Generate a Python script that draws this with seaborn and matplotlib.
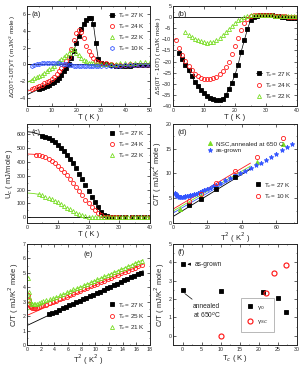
import matplotlib
matplotlib.use("Agg")
import matplotlib.pyplot as plt
import seaborn as sns
from matplotlib.ticker import MultipleLocator, AutoMinorLocator

# ---------------- data ----------------
# (a) dC/T vs T
a_T27 = [5,6,7,8,9,10,11,12,13,14,15,16,17,18,19,20,21,22,23,24,25,26,27,28,29,30,32,34,36,38,40,42,44,46,48,50]
a_dC27 = [-2.95,-2.85,-2.75,-2.6,-2.45,-2.3,-2.1,-1.85,-1.6,-1.25,-0.85,-0.4,0.05,0.8,1.6,2.5,3.4,4.2,4.8,5.3,5.5,5.6,4.8,2.6,0.6,0.2,0.05,-0.1,-0.2,-0.25,-0.2,-0.15,-0.1,-0.1,-0.1,-0.1]
a_T = [2,3,4,5,6,7,8,9,10,11,12,13,14,15,16,17,18,19,20,21,22,23,24,25,26,27,28,29,30,32,34,36,38,40,42,44,46,48,50]
a_dC24 = [-3.0,-2.9,-2.75,-2.6,-2.45,-2.3,-2.15,-1.95,-1.75,-1.5,-1.2,-0.85,-0.45,-0.05,0.35,0.9,1.8,2.9,3.8,4.15,3.9,3.1,2.2,1.55,1.15,0.7,0.45,0.3,0.2,0.1,0.0,-0.1,-0.1,-0.05,0.0,-0.05,-0.1,-0.1,-0.1]
a_dC22 = [-1.85,-1.7,-1.55,-1.4,-1.25,-1.05,-0.85,-0.6,-0.4,-0.15,0.1,0.35,0.6,0.85,1.1,1.4,1.75,1.85,1.4,1.1,0.8,0.55,0.35,0.2,0.15,0.1,0.05,0.05,0.05,0.0,0.0,0.05,0.1,0.1,0.15,0.2,0.25,0.25,0.25]
a_dC10 = [-0.15,-0.1,0.0,0.05,0.1,0.1,0.1,0.1,0.1,0.1,0.1,0.1,0.05,0.05,0.0,-0.05,-0.1,-0.15,-0.2,-0.2,-0.25,-0.25,-0.25,-0.25,-0.25,-0.25,-0.25,-0.25,-0.25,-0.25,-0.25,-0.2,-0.15,-0.1,-0.1,-0.1,-0.1,-0.1,-0.1]
a_fitT27, a_fit27 = [0, 5], [-3.65, -2.95]
a_fitT24, a_fit24 = [0, 2], [-3.25, -3.0]
a_fitT22, a_fit22 = [0, 2], [-2.2, -1.85]

# (b) dS vs T
b_T27 = [2,3,4,5,6,7,8,9,10,11,12,13,14,15,16,17,18,19,20,21,22,23,24,25,26,27,28,29,30,31,32,33,34,35,36,37,38,39,40]
b_dS27 = [-16,-19,-21.5,-24,-26.6,-29,-31,-32.8,-34.3,-35.5,-36.3,-36.9,-37.3,-37.2,-36.8,-35.2,-32.5,-29.5,-26,-21.5,-15.5,-10.5,-5.5,-1.5,0.2,0.6,0.9,1.0,1.0,0.9,0.8,0.6,0.4,0.2,0.0,-0.2,-0.3,-0.4,-0.5]
b_T24 = [1,2,3,4,5,6,7,8,9,10,11,12,13,14,15,16,17,18,19,20,21,22,23,24,25,26,27,28,29,30,31,32,33,34,35,36,37,38,39,40]
b_dS24 = [-10.5,-14,-17,-19.7,-22,-24,-25.4,-26.5,-27.3,-27.8,-28,-28,-27.5,-26.9,-25.8,-24.3,-22.3,-20,-16.8,-13.2,-9.2,-5.7,-2.8,-0.8,0.3,0.8,1.0,1.0,1.0,1.0,0.9,0.8,0.7,0.5,0.4,0.3,0.2,0.1,0.0,0.0]
b_T22 = [4,5,6,7,8,9,10,11,12,13,14,15,16,17,18,19,20,21,22,23,24,25,26,27,28,29,30,31,32,33,34,35,36,37,38,39,40]
b_dS22 = [-6.8,-7.9,-8.8,-9.7,-10.4,-10.9,-11.3,-11.5,-11.4,-11,-10.3,-9.3,-8.2,-6.9,-5.4,-4,-2.7,-1.5,-0.7,0.0,0.5,0.8,0.9,0.9,0.9,0.9,0.9,0.9,0.8,0.7,0.6,0.5,0.5,0.4,0.4,0.3,0.3]

# (c) Uc vs T
c_T27 = [5,6,7,8,9,10,11,12,13,14,15,16,17,18,19,20,21,22,23,24,25,26,27,28,30,32,34,36,38,40]
c_U27 = [585,578,568,556,540,522,500,476,450,420,388,352,314,274,232,190,148,108,72,42,20,8,3,0,0,0,0,0,0,0]
c_T24 = [3,4,5,6,7,8,9,10,11,12,13,14,15,16,17,18,19,20,21,22,23,24,25,26,27,28,29,30,32,34,36,38,40]
c_U24 = [450,445,438,430,420,405,390,372,350,327,302,275,247,218,188,158,128,100,74,50,30,15,5,0,0,0,0,0,0,0,0,0,0]
c_T22 = [4,5,6,7,8,9,10,11,12,13,14,15,16,17,18,19,20,21,22,23,24,25,26,27,28,29,30,31,32,33,34,35,36,37,38,39,40]
c_U22 = [165,158,150,141,131,120,108,95,82,70,57,45,34,25,17,10,5,2,0,0,0,0,0,0,0,0,0,0,0,0,0,0,0,0,0,0,0]
c_fitT27, c_fit27 = [0, 2, 4, 5], [615, 610, 595, 585]
c_fitT24, c_fit24 = [0, 2, 3], [455, 453, 450]
c_fitT22, c_fit22 = [0, 2, 4], [175, 172, 165]

# (d) C/T vs T^2
d_T2_nsc = [4, 9, 16, 25, 36, 49, 64]
d_C_nsc = [2.9, 3.9, 5.5, 7.4, 9.6, 12.4, 15.9]
d_T2_27 = [9, 16, 25, 36]
d_C_27 = [3.7, 4.9, 6.9, 9.2]
d_T2_10 = [9, 16, 25, 36, 49, 64]
d_C_10 = [4.5, 5.9, 8.1, 10.5, 13.4, 17.2]
d_T2_ag = [1.2,1.6,2.0,2.5,3.0,3.6,4.2,4.9,5.6,6.4,7.2,8.1,9.0,10.0,11.0,12.1,13.2,14.4,15.6,16.9,18.2,19.6,21.2,23.0,25.0,27.5,30.0,33.0,36.0,39.0,42.0,45.0,48.0,51.0,54.0,57.0,60.0,63.0,66.0,69.0]
d_C_ag = [6.0,5.8,5.6,5.5,5.4,5.35,5.3,5.3,5.3,5.35,5.4,5.45,5.5,5.6,5.7,5.8,5.95,6.1,6.25,6.45,6.65,6.85,7.1,7.4,7.7,8.1,8.6,9.1,9.6,10.1,10.6,11.1,11.7,12.2,12.8,13.4,14.0,14.7,15.3,16.0]
d_fitT2 = [0, 45]
d_fit27 = [1.3, 10.9]
d_fitag = [2.0, 11.1]
d_fitnsc = [2.4, 11.5]
d_fit10 = [2.8, 12.1]

# (e) C/T vs T^2
e_T2_27 = [3.2,3.7,4.2,4.7,5.2,5.7,6.2,6.7,7.2,7.7,8.2,8.7,9.2,9.7,10.2,10.7,11.2,11.7,12.2,12.7,13.2,13.7,14.2,14.7,15.2,15.7,16.2,16.7]
e_C_27 = [2.12,2.2,2.3,2.42,2.53,2.62,2.74,2.85,2.96,3.06,3.17,3.28,3.39,3.5,3.6,3.7,3.83,3.94,4.05,4.16,4.26,4.37,4.48,4.58,4.7,4.8,4.9,5.02]
e_T2 = [0.15,0.25,0.35,0.5,0.65,0.8,1.0,1.2,1.45,1.7,2.0,2.4,2.8,3.3,3.8,4.3,4.8,5.3,5.8,6.3,6.8,7.3,7.8,8.3,8.8,9.3,9.8,10.3,10.8,11.3,11.8,12.3,12.8,13.3,13.8,14.3,14.8,15.3,15.8,16.3,16.8]
e_C_25 = [3.5,3.1,2.85,2.7,2.6,2.55,2.55,2.55,2.58,2.62,2.67,2.74,2.8,2.88,2.97,3.06,3.16,3.26,3.36,3.46,3.56,3.66,3.76,3.86,3.96,4.06,4.16,4.26,4.36,4.46,4.56,4.66,4.76,4.86,4.96,5.06,5.16,5.26,5.36,5.46,5.56]
e_C_21 = [4.65,3.7,3.3,3.05,2.92,2.86,2.83,2.83,2.86,2.9,2.95,3.02,3.09,3.17,3.26,3.35,3.45,3.55,3.65,3.75,3.85,3.95,4.05,4.15,4.25,4.35,4.45,4.55,4.65,4.75,4.85,4.95,5.05,5.15,5.25,5.35,5.45,5.55,5.65,5.75,5.85]
e_fitT2 = [0, 17]
e_fit27 = [1.35, 5.15]
e_fit25 = [2.05, 5.6]
e_fit21 = [2.4, 5.9]

# (f) gamma vs Tc
f_Tc_g0 = [0, 0, 10, 21, 25, 27]
f_g0 = [3.9, 2.5, 2.45, 2.4, 2.05, 1.3]
f_Tc_gsc = [10, 22, 24, 27]
f_gsc = [0.0, 2.35, 3.4, 3.85]

# ---------------- style ----------------
sns.set_style("ticks")
plt.rcParams['font.family'] = ['Arial', 'Liberation Sans', 'DejaVu Sans']
plt.rcParams.update({
    'font.size': 4.5, 'axes.labelsize': 5.5,
    'xtick.labelsize': 3.8, 'ytick.labelsize': 3.8,
    'axes.linewidth': 0.7, 'xtick.direction': 'in', 'ytick.direction': 'in',
    'xtick.top': True, 'ytick.right': True,
    'xtick.major.size': 2.0, 'ytick.major.size': 2.0,
    'xtick.minor.size': 1.0, 'ytick.minor.size': 1.0,
    'xtick.major.width': 0.5, 'ytick.major.width': 0.5,
    'xtick.minor.width': 0.4, 'ytick.minor.width': 0.4,
    'xtick.major.pad': 1.2, 'ytick.major.pad': 1.2,
    'axes.labelpad': 1.0,
})

BLK = 'black'
RED = '#ff1a1a'
GRN = '#77dd22'
BLU = '#3355ff'

W, H = 303, 368
fig = plt.figure(figsize=(W/100, H/100), dpi=100)

def box(l, t, r, b):
    return fig.add_axes([l/W, 1 - b/H, (r - l)/W, (b - t)/H])

axa = box(27, 6, 150, 106)
axb = box(173, 6, 297, 106)
axc = box(27, 124, 150, 223)
axd = box(173, 124, 297, 223)
axe = box(27, 244, 150, 345)
axf = box(173, 244, 297, 345)

def pts(ax, x, y, color, marker, filled=False, ms=2.9, line=False, label=None, mew=0.6):
    sns.lineplot(x=x, y=y, ax=ax, color=color, marker=marker, markersize=ms,
                 markerfacecolor=color if filled else 'none', markeredgecolor=color,
                 markeredgewidth=mew, linestyle='-' if line else 'none', linewidth=0.5,
                 estimator=None, sort=False, label=label, legend=False)

def fit(ax, x, y, color, lw=0.6):
    sns.lineplot(x=x, y=y, ax=ax, color=color, linewidth=lw, estimator=None,
                 sort=False, legend=False)

def leg(ax, loc, **kw):
    lg = ax.legend(loc=loc, frameon=False, fontsize=4.6, handlelength=1.0,
                   handletextpad=0.4, labelspacing=0.35, borderaxespad=0.4, **kw)
    return lg

# ---- (a)
ax = axa
ax.axhline(0, color='black', lw=0.6)
fit(ax, a_fitT27, a_fit27, BLK)
fit(ax, a_fitT24, a_fit24, RED)
fit(ax, a_fitT22, a_fit22, GRN)
pts(ax, a_T27, a_dC27, BLK, 's', filled=True, ms=2.6, line=True, label='T$_c$= 27 K')
pts(ax, a_T, a_dC24, RED, 'o', label='T$_c$= 24 K')
pts(ax, a_T, a_dC22, GRN, '^', label='T$_c$= 22 K')
pts(ax, a_T, a_dC10, BLU, 'h', label='T$_c$= 10 K')
ax.set_xlim(0, 50); ax.set_ylim(-5, 7)
ax.xaxis.set_major_locator(MultipleLocator(10))
ax.set_yticks([-4, -2, 0, 2, 4, 6])
ax.set_xlabel('T ( K )'); ax.set_ylabel('ΔC(0T-10T)/T ( mJ/K$^2$ mole )', fontsize=4.6)
leg(ax, 'upper right')
ax.text(0.04, 0.95, '(a)', transform=ax.transAxes, fontsize=5.5, va='top')

# ---- (b)
ax = axb
ax.axhline(0, color='black', lw=0.6)
pts(ax, b_T27, b_dS27, BLK, 's', filled=True, ms=2.6, line=True, label='T$_c$= 27 K')
pts(ax, b_T24, b_dS24, RED, 'o', label='T$_c$= 24 K')
pts(ax, b_T22, b_dS22, GRN, '^', label='T$_c$= 22 K')
ax.set_xlim(0, 40); ax.set_ylim(-40, 5)
ax.xaxis.set_major_locator(MultipleLocator(10)); ax.yaxis.set_major_locator(MultipleLocator(5))
ax.set_xlabel('T ( K )'); ax.set_ylabel('ΔS(0T - 10T) ( mJ/K mole )', fontsize=4.6)
leg(ax, 'lower right')
ax.text(0.04, 0.95, '(b)', transform=ax.transAxes, fontsize=5.5, va='top')

# ---- (c)
ax = axc
sns.lineplot(x=[0, 20], y=[0, 0], ax=ax, color='black', linewidth=0.6, estimator=None, legend=False)
fit(ax, c_fitT27, c_fit27, BLK)
fit(ax, c_fitT24, c_fit24, RED)
fit(ax, c_fitT22, c_fit22, GRN)
pts(ax, c_T27, c_U27, BLK, 's', filled=True, ms=2.6, label='T$_c$= 27 K')
pts(ax, c_T24, c_U24, RED, 'o', label='T$_c$= 24 K')
pts(ax, c_T22, c_U22, GRN, '^', label='T$_c$= 22 K')
ax.set_xlim(0, 40); ax.set_ylim(-40, 670)
ax.xaxis.set_major_locator(MultipleLocator(10)); ax.yaxis.set_major_locator(MultipleLocator(100))
ax.set_xlabel('T ( K )'); ax.set_ylabel('U$_c$ ( mJ/mole )')
leg(ax, 'upper right')
ax.text(0.04, 0.95, '(c)', transform=ax.transAxes, fontsize=5.5, va='top')

# ---- (d)
ax = axd
fit(ax, d_fitT2, d_fit27, BLK)
fit(ax, d_fitT2, d_fitag, BLU)
fit(ax, d_fitT2, d_fitnsc, GRN)
fit(ax, d_fitT2, d_fit10, RED)
pts(ax, d_T2_nsc, d_C_nsc, GRN, '^', filled=True, ms=3.0, label='NSC,annealed at 650 C')
pts(ax, d_T2_ag, d_C_ag, BLU, '*', filled=True, ms=3.4, label='as-grown')
pts(ax, d_T2_27, d_C_27, BLK, 's', filled=True, ms=2.7, label='T$_c$= 27 K')
pts(ax, d_T2_10, d_C_10, RED, 'o', ms=3.0, label='T$_c$= 10 K')
ax.set_xlim(0, 72); ax.set_ylim(0, 20)
ax.xaxis.set_major_locator(MultipleLocator(20)); ax.yaxis.set_major_locator(MultipleLocator(5))
ax.set_xlabel('T$^2$ ( K$^2$ )'); ax.set_ylabel('C/T ( mJ/K$^2$ mole )')
hs, ls = ax.get_legend_handles_labels()
idx = {l: h for h, l in zip(hs, ls)}
l1 = ax.legend([idx['NSC,annealed at 650 C'], idx['as-grown']], ['NSC,annealed at 650 C', 'as-grown'],
               loc='upper left', bbox_to_anchor=(0.25, 0.86), frameon=False, fontsize=4.6,
               handlelength=1.0, handletextpad=0.4, labelspacing=0.3, borderaxespad=0.0)
ax.add_artist(l1)
ax.legend([idx['T$_c$= 27 K'], idx['T$_c$= 10 K']], ['T$_c$= 27 K', 'T$_c$= 10 K'],
          loc='lower right', bbox_to_anchor=(0.97, 0.2), frameon=False, fontsize=4.6,
          handlelength=1.0, handletextpad=0.4, labelspacing=0.35, borderaxespad=0.0)
ax.text(0.04, 0.95, '(d)', transform=ax.transAxes, fontsize=5.5, va='top')

# ---- (e)
ax = axe
fit(ax, e_fitT2, e_fit27, BLK)
fit(ax, e_fitT2, e_fit25, RED)
fit(ax, e_fitT2, e_fit21, GRN)
pts(ax, e_T2_27, e_C_27, BLK, 's', filled=True, ms=2.6, label='T$_c$= 27 K')
pts(ax, e_T2, e_C_25, RED, 'o', label='T$_c$= 25 K')
pts(ax, e_T2, e_C_21, GRN, '^', label='T$_c$= 21 K')
ax.set_xlim(0, 18); ax.set_ylim(0, 7)
ax.xaxis.set_major_locator(MultipleLocator(2)); ax.yaxis.set_major_locator(MultipleLocator(1))
ax.set_xlabel('T$^2$ ( K$^2$ )'); ax.set_ylabel('C/T ( mJ/K$^2$ mole )')
leg(ax, 'lower right', bbox_to_anchor=(1.0, 0.08))
ax.text(0.5, 0.93, '(e)', transform=ax.transAxes, fontsize=5.5, va='top', ha='center')

# ---- (f)
ax = axf
pts(ax, f_Tc_g0, f_g0, BLK, 's', filled=True, ms=3.4, label='γ$_0$')
pts(ax, f_Tc_gsc, f_gsc, RED, 'o', ms=3.6, mew=0.85, label='γ$_{SC}$')
ax.set_xlim(-2.5, 30); ax.set_ylim(-0.5, 5)
ax.xaxis.set_major_locator(MultipleLocator(5)); ax.yaxis.set_major_locator(MultipleLocator(1))
ax.set_xlabel('T$_c$ ( K )'); ax.set_ylabel('C/T ( mJ/K$^2$ mole )')
lg = ax.legend(loc='lower left', bbox_to_anchor=(0.52, 0.1), frameon=True, fontsize=4.6,
               handlelength=1.0, handletextpad=0.6, labelspacing=1.0, borderpad=0.9,
               fancybox=False, edgecolor='#999999')
lg.get_frame().set_linewidth(0.6)
ax.annotate('as-grown', xy=(0.6, 3.9), xytext=(3.2, 3.9), fontsize=4.8, va='center',
            arrowprops=dict(arrowstyle='-|>', lw=0.5, color='black', mutation_scale=4))
ax.annotate('annealed\nat 650$^o$C', xy=(0.3, 2.35), xytext=(2.8, 1.35), fontsize=4.8,
            va='center', ha='left', linespacing=1.0,
            arrowprops=dict(arrowstyle='-', lw=0.5, color='black', shrinkA=0, shrinkB=1))
ax.text(0.04, 0.95, '(f)', transform=ax.transAxes, fontsize=5.5, va='top')

for a in [axa, axb, axc, axd, axe, axf]:
    a.xaxis.set_minor_locator(AutoMinorLocator(2))
    a.yaxis.set_minor_locator(AutoMinorLocator(2))
    for s in a.spines.values():
        s.set_linewidth(0.7)

fig.savefig('out.png', dpi=100)
